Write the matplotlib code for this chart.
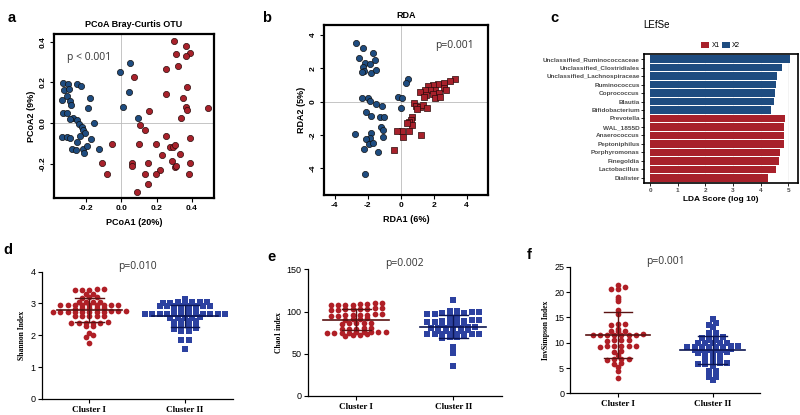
import numpy as np
import matplotlib
matplotlib.use('Agg')
import matplotlib.pyplot as plt
from matplotlib.patches import Patch

plt.rcParams['font.family'] = ['Liberation Sans', 'DejaVu Sans']

# ---- panel a: PCoA ----
pcoa_blue_x = [-0.334, -0.302, -0.255, -0.232, -0.326, -0.296, -0.340, -0.311, -0.292, -0.289,
               -0.179, -0.189, -0.330, -0.308, -0.274, -0.255, -0.292, -0.240, -0.226, -0.217,
               -0.208, -0.155, -0.236, -0.175, -0.340, -0.311, -0.292, -0.255, -0.283, -0.258,
               -0.217, -0.198, -0.211, -0.126, -0.009, 0.047, 0.042, 0.009, 0.094]
pcoa_blue_y = [0.198, 0.192, 0.192, 0.184, 0.162, 0.166, 0.116, 0.133, 0.110, 0.089,
               0.125, 0.072, 0.048, 0.048, 0.023, 0.015, 0.018, -0.002, -0.018, -0.034,
               -0.048, 0.002, -0.064, -0.080, -0.067, -0.070, -0.075, -0.092, -0.125, -0.133,
               -0.125, -0.113, -0.149, -0.125, 0.252, 0.297, 0.154, 0.080, 0.025]
pcoa_red_x = [0.296, 0.368, 0.387, 0.311, 0.364, 0.321, 0.251, 0.070, 0.372, 0.251,
              0.349, 0.368, 0.372, 0.489, 0.157, 0.340, 0.104, 0.136, -0.055, 0.100,
              0.198, 0.251, 0.387, 0.277, 0.292, 0.302, 0.330, 0.228, 0.062, 0.153,
              0.285, 0.391, -0.113, 0.057, 0.217, 0.302, -0.081, 0.136, 0.198, 0.311,
              0.383, 0.153, 0.089]
pcoa_red_y = [0.405, 0.379, 0.343, 0.339, 0.330, 0.282, 0.267, 0.228, 0.179, 0.141,
              0.125, 0.080, 0.064, 0.074, 0.059, 0.023, -0.008, -0.034, -0.105, -0.105,
              -0.105, -0.064, -0.072, -0.116, -0.116, -0.108, -0.152, -0.159, -0.195, -0.195,
              -0.185, -0.195, -0.195, -0.211, -0.231, -0.215, -0.251, -0.251, -0.251, -0.211,
              -0.251, -0.297, -0.341]

# ---- panel b: RDA ----
rda_blue_x = [-2.69, -2.28, -1.68, -2.53, -1.58, -2.14, -1.88, -2.28, -2.24, -1.78,
              -1.52, -2.34, 0.44, 0.30, -2.34, -1.98, -1.88, -1.52, -1.11, -0.16,
              0.10, 0.02, -2.12, -1.78, -1.27, -1.03, -1.17, -1.07, -2.79, -1.78,
              -1.88, -2.08, -1.07, -1.92, -1.68, -2.24, -1.37, -2.14]
rda_blue_y = [3.50, 3.20, 2.90, 2.64, 2.50, 2.34, 2.24, 2.10, 1.86, 1.74,
              1.90, 1.80, 1.36, 1.14, 0.22, 0.22, 0.06, -0.16, -0.26, 0.26,
              0.20, -0.36, -0.60, -0.84, -0.94, -0.90, -1.54, -1.70, -1.96, -1.90,
              -2.20, -2.26, -2.10, -2.54, -2.50, -2.86, -3.04, -4.36]
rda_red_x = [3.27, 2.97, 2.63, 2.26, 1.96, 1.66, 2.61, 2.06, 1.76, 1.45,
             1.15, 1.56, 1.96, 2.32, 2.73, 1.39, 2.06, 2.40, 0.81, 0.95,
             1.15, 1.35, 1.60, 1.01, 0.71, 0.65, 0.51, 0.71, 0.38, 0.10,
             -0.22, 0.51, 0.14, 1.21, -0.42]
rda_red_y = [1.34, 1.24, 1.14, 1.06, 1.00, 0.94, 0.80, 0.70, 0.70, 0.70,
             0.60, 0.40, 0.46, 0.54, 0.70, 0.26, 0.20, 0.26, -0.06, -0.26,
             -0.34, -0.20, -0.40, -0.46, -0.90, -1.10, -1.20, -1.40, -1.26, -1.74,
             -1.74, -1.74, -2.10, -2.00, -2.90]

# ---- panel c: LEfSe ----
taxa = ['Unclassified_Ruminococcaceae', 'Unclassified_Clostridiales', 'Unclassified_Lachnospiraceae',
        'Ruminococcus', 'Coprococcus', 'Blautia', 'Bifidobacterium', 'Prevotella', 'WAL_1855D',
        'Anaerococcus', 'Peptoniphilus', 'Porphyromonas', 'Finegoldia', 'Lactobacillus', 'Dialister']
lda = [5.06, 4.76, 4.60, 4.55, 4.53, 4.48, 4.37, 4.88, 4.86, 4.86, 4.83, 4.70, 4.65, 4.55, 4.28]
lda_group = ['X2'] * 7 + ['X1'] * 8

# ---- panels d-f: alpha diversity ----
shannon_1 = [3.43, 3.44, 3.42, 3.43, 3.45, 3.29, 3.30, 3.19, 3.20, 3.18,
             3.05, 3.06, 3.04, 3.05, 2.95, 2.96, 2.94, 2.95, 2.95, 2.96, 2.94, 2.95, 2.96,
             2.85, 2.86, 2.84, 2.85, 2.85, 2.74, 2.75, 2.73, 2.74, 2.74, 2.75, 2.73, 2.74,
             2.74, 2.75, 2.73, 2.60, 2.61, 2.59, 2.60, 2.60, 2.40, 2.41, 2.39, 2.40, 2.40,
             2.40, 2.30, 2.29, 2.07, 2.00, 1.96, 1.75]
shannon_2 = [3.15, 3.03, 3.04, 3.02, 3.03, 3.03, 3.04, 3.02, 2.92, 2.93, 2.91, 2.92, 2.92,
             2.93, 2.91, 2.92, 2.80, 2.81, 2.79, 2.80, 2.67, 2.68, 2.66, 2.67, 2.67, 2.68,
             2.66, 2.67, 2.67, 2.68, 2.66, 2.67, 2.55, 2.56, 2.54, 2.55, 2.55, 2.44, 2.45,
             2.43, 2.44, 2.33, 2.34, 2.32, 2.33, 2.22, 2.23, 2.21, 2.22, 2.12, 2.12, 1.86,
             1.86, 1.58]
chao_1 = [110, 109, 108, 108, 108, 108, 109, 110, 103, 103, 104, 102, 103, 103, 104, 102,
          96, 96, 97, 95, 96, 96, 97, 95, 91, 91, 90, 92, 86, 86, 87, 85, 86,
          79, 79, 80, 80, 79, 76, 76, 75, 75, 76, 76, 75, 75, 76, 72, 72, 71, 73]
chao_2 = [114, 101, 101, 98, 98, 99, 97, 98, 98, 99, 97, 94, 94, 89, 89, 90, 88, 89, 89,
          90, 88, 85, 85, 86, 84, 81, 81, 82, 80, 81, 81, 82, 77, 77, 78, 77, 77, 74, 74,
          73, 74, 74, 73, 74, 73, 70, 70, 71, 69, 58, 55, 51, 35]
invsimp_1 = [21.4, 21.0, 20.7, 20.6, 19.1, 18.6, 18.2, 16.5, 15.7, 13.8, 13.8, 13.5,
             12.8, 12.4, 12.4, 12.4, 11.6, 11.6, 11.5, 11.6, 11.7, 11.5, 11.6, 11.6,
             10.5, 10.5, 10.4, 10.6, 9.3, 9.3, 9.2, 9.4, 9.3, 9.3, 8.3, 8.2, 7.5,
             6.7, 6.7, 6.6, 6.8, 6.0, 5.9, 5.3, 4.5, 3.1]
invsimp_2 = [14.7, 13.9, 13.6, 13.2, 12.0, 11.9, 11.1, 11.2, 11.1, 11.0, 10.5, 10.5,
             10.0, 10.0, 9.9, 10.0, 10.0, 9.2, 9.2, 9.3, 9.1, 9.2, 9.2, 9.3, 9.1,
             8.6, 8.6, 8.5, 8.6, 8.7, 8.6, 8.0, 8.0, 7.9, 8.1, 8.0, 7.3, 7.3, 7.2,
             6.5, 6.5, 6.4, 6.0, 6.0, 5.9, 5.9, 6.0, 5.4, 4.5, 4.5, 3.2, 3.2, 2.7]
clusters = ['Cluster I', 'Cluster II']

RED = '#a8212b'
BLUE = '#1e4c80'
DOT_RED = '#b01f26'
DOT_BLUE = '#2c41a0'

fig = plt.figure(figsize=(8, 4.15), dpi=100)


def ordination(rect, bx, by, rx, ry, red_marker, title, xl, yl, xlim, ylim, xt, yt, ptxt, ppos):
    ax = fig.add_axes(rect)
    ax.axhline(0, color='#bbbbbb', lw=0.6, zorder=0)
    ax.axvline(0, color='#bbbbbb', lw=0.6, zorder=0)
    ax.scatter(bx, by, s=20, c=BLUE, edgecolors='#111111', linewidths=0.5, zorder=3)
    ax.scatter(rx, ry, s=20, c=RED, marker=red_marker, edgecolors='#2a0a0a', linewidths=0.5, zorder=3)
    ax.set_xlim(xlim)
    ax.set_ylim(ylim)
    ax.set_xticks(xt)
    ax.set_yticks(yt)
    ax.set_xticklabels([f'{v:g}' if isinstance(v, int) else f'{v:.1f}' for v in xt],
                       fontsize=6, fontweight='bold')
    ax.set_yticklabels([f'{v:g}' if isinstance(v, int) else f'{v:.1f}' for v in yt],
                       fontsize=6, fontweight='bold', rotation=90, va='center')
    ax.tick_params(length=3, width=0.8, pad=2)
    for s in ax.spines.values():
        s.set_linewidth(1.6)
    ax.set_title(title, fontsize=6.5, fontweight='bold', pad=5)
    ax.set_xlabel(xl, fontsize=6.5, fontweight='bold', labelpad=4)
    ax.set_ylabel(yl, fontsize=6.5, fontweight='bold', labelpad=3)
    ax.text(ppos[0], ppos[1], ptxt, transform=ax.transAxes, fontsize=7.5, color='#333333',
            ha='left', va='center', family=['Open Sans', 'DejaVu Sans'])
    return ax


ordination([0.0675, 0.522, 0.2, 0.396], pcoa_blue_x, pcoa_blue_y, pcoa_red_x, pcoa_red_y, 'o',
           'PCoA Bray-Curtis OTU', 'PCoA1 (20%)', 'PCoA2 (9%)', (-0.383, 0.525), (-0.370, 0.438),
           [-0.2, 0.0, 0.2, 0.4], [-0.2, 0.0, 0.2, 0.4], 'p < 0.001', (0.08, 0.86))
ordination([0.405, 0.530, 0.205, 0.41], rda_blue_x, rda_blue_y, rda_red_x, rda_red_y, 's',
           'RDA', 'RDA1 (6%)', 'RDA2 (5%)', (-4.65, 5.29), (-5.6, 4.6),
           [-4, -2, 0, 2, 4], [-4, -2, 0, 2, 4], 'p=0.001', (0.68, 0.88))

# LEfSe bars
axc = fig.add_axes([0.805, 0.559, 0.192, 0.311])
ypos = np.arange(len(taxa))[::-1]
cols = [BLUE if g == 'X2' else RED for g in lda_group]
axc.barh(ypos, lda, height=0.88, color=cols, zorder=2)
axc.set_yticks(ypos)
axc.set_yticklabels(taxa, fontsize=4.6, fontweight='bold', color='#4d4d4d')
axc.set_xlim(-0.22, 5.34)
axc.set_ylim(-0.6, len(taxa) - 0.4)
axc.set_xticks([0, 1, 2, 3, 4, 5])
axc.tick_params(axis='x', labelsize=4.6, length=2, width=0.6, pad=1.5, labelcolor='#4d4d4d')
axc.tick_params(axis='y', length=2, width=0.6, pad=1)
for lab in axc.get_xticklabels():
    lab.set_fontweight('bold')
axc.grid(axis='x', color='#eeeeee', lw=0.5, zorder=0)
for s in axc.spines.values():
    s.set_linewidth(1.2)
axc.set_xlabel('LDA Score (log 10)', fontsize=6, fontweight='bold', labelpad=2)
handles = [Patch(facecolor=RED, label='X1'), Patch(facecolor=BLUE, label='X2')]
axc.legend(handles=handles, loc='lower center', bbox_to_anchor=(0.5, 1.0), ncol=2, frameon=False,
           fontsize=4.8, handlelength=1.2, handleheight=1.2, handletextpad=0.3, columnspacing=0.4,
           borderpad=0.2)
fig.text(657 / 800, 1 - 25 / 415, 'LEfSe', fontsize=7, ha='center', va='center')


def swarm(vals, center, gap, dx):
    # values within `gap` of each other form one row, spread sideways around the centre
    vals = np.asarray(vals, dtype=float)
    order = np.argsort(vals)
    xs = np.zeros(len(vals))
    rows = [[order[0]]]
    for k in order[1:]:
        if vals[k] - vals[rows[-1][-1]] < gap:
            rows[-1].append(k)
        else:
            rows.append([k])
    for r in rows:
        n = len(r)
        xs[r] = center + (np.arange(n) - (n - 1) / 2) * dx
    return xs


def dotplot(rect, g1, g2, ymax, ystep, ylabel, ptxt, gap, dx):
    ax = fig.add_axes(rect)
    for i, (vals, col, mk, lc) in enumerate([(g1, DOT_RED, 'o', '#5a1212'),
                                              (g2, DOT_BLUE, 's', '#0c1552')]):
        c = i + 1
        xs = swarm(vals, c, gap, dx)
        ax.scatter(xs, vals, s=17, c=col, marker=mk, linewidths=0, zorder=2)
        m = np.mean(vals)
        sd = np.std(vals, ddof=1)
        ax.plot([c - 0.34, c + 0.34], [m, m], color=lc, lw=1.2, zorder=3)
        ax.plot([c, c], [m - sd, m + sd], color=lc, lw=1.0, zorder=3)
        ax.plot([c - 0.15, c + 0.15], [m + sd, m + sd], color=lc, lw=1.0, zorder=3)
        ax.plot([c - 0.15, c + 0.15], [m - sd, m - sd], color=lc, lw=1.0, zorder=3)
    ax.set_xlim(0.5, 2.5)
    ax.set_ylim(0, ymax)
    ax.set_yticks(np.arange(0, ymax + ystep / 2, ystep))
    ax.set_xticks([1, 2])
    ax.set_xticklabels(clusters, fontsize=6.5, fontweight='bold', family=['Liberation Serif'])
    ax.tick_params(axis='y', labelsize=6.5, length=3, width=0.8, pad=1.5)
    ax.tick_params(axis='x', length=3, width=0.8, pad=2)
    ax.spines['top'].set_visible(False)
    ax.spines['right'].set_visible(False)
    ax.spines['left'].set_linewidth(0.9)
    ax.spines['bottom'].set_linewidth(0.9)
    ax.set_ylabel(ylabel, fontsize=5.5, family=['Liberation Serif'], fontweight='bold', labelpad=3)
    ax.text(1.5, ymax * 1.0, ptxt, fontsize=7.5, ha='center', va='bottom', color='#333333',
            family=['Open Sans', 'DejaVu Sans'])
    return ax


dotplot([0.052, 0.0386, 0.239, 0.307], shannon_1, shannon_2, 4, 1, 'Shannon Index', 'p=0.010',
        0.05, 0.076)
dotplot([0.385, 0.0458, 0.242, 0.305], chao_1, chao_2, 150, 50, 'Chao1 index', 'p=0.002',
        1.5, 0.076)
dotplot([0.713, 0.052, 0.237, 0.305], invsimp_1, invsimp_2, 25, 5, 'InvSimpson Index', 'p=0.001',
        0.35, 0.076)

for lab, x, y in [('a', 8, 18), ('b', 262, 18), ('c', 550, 18), ('d', 3, 250), ('e', 267, 257),
                  ('f', 527, 255)]:
    fig.text(x / 800, 1 - y / 415, lab, fontsize=10.5, fontweight='bold', ha='left', va='center')

fig.savefig('out.png', dpi=100)
